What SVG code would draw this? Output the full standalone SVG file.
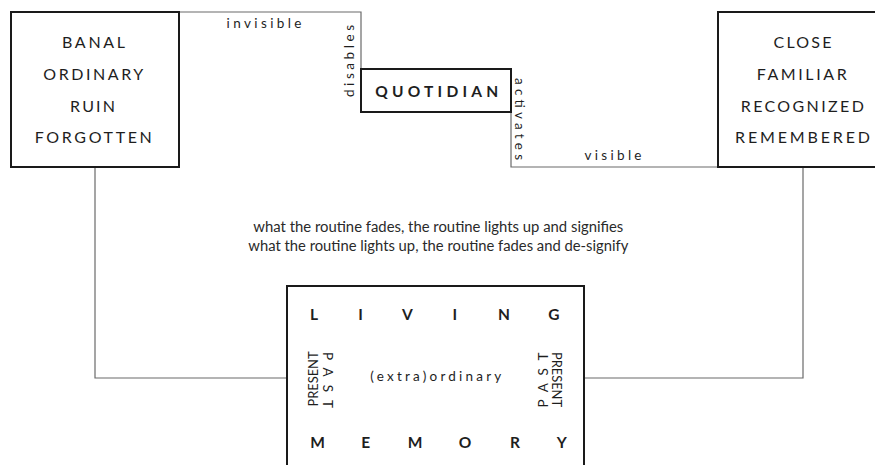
<svg xmlns="http://www.w3.org/2000/svg" width="875" height="465" viewBox="0 0 875 465">
<style>
.box{fill:#fff;stroke:#1a1a1a;stroke-width:2}
.con{fill:none;stroke:#6a6a6a;stroke-width:1.2}
text{font-family:Lato,"Open Sans","Liberation Sans",sans-serif;fill:#1e1e1e}
.cap{font-size:16px;text-anchor:middle}
.lbl{font-size:13.5px;text-anchor:middle}
.big{font-size:15.5px;font-weight:bold;text-anchor:middle}
.mid{font-size:14.5px;text-anchor:middle;fill:#2a2a2a}
</style>
<rect width="875" height="465" fill="#fff"/>
<g id="connectors">
<polyline class="con" points="179,12 361,12 361,69"/>
<polyline class="con" points="511,112 511,167 718,167"/>
<polyline class="con" points="95,167 95,378 287,378"/>
<polyline class="con" points="803,167 803,378 584,378"/>
<text class="lbl" x="264" y="28" textLength="75" lengthAdjust="spacing">invisible</text>
<text class="lbl" transform="translate(354,61) rotate(-90)" textLength="72" lengthAdjust="spacing">disables</text>
<text class="lbl" transform="translate(515,119) rotate(90)" textLength="82" lengthAdjust="spacing">activates</text>
<text class="lbl" x="613" y="160" textLength="57" lengthAdjust="spacing">visible</text>
</g>
<g id="banal">
<rect class="box" x="11" y="12" width="168" height="155"/>
<text class="cap" x="93.5" y="48.3" textLength="63" lengthAdjust="spacing">BANAL</text>
<text class="cap" x="93.3" y="80" textLength="100" lengthAdjust="spacing">ORDINARY</text>
<text class="cap" x="92.5" y="111.7" textLength="45" lengthAdjust="spacing">RUIN</text>
<text class="cap" x="93.3" y="143.3" textLength="117" lengthAdjust="spacing">FORGOTTEN</text>
</g>
<g id="close">
<rect class="box" x="718" y="12" width="172" height="155"/>
<text class="cap" x="802.5" y="48.3" textLength="58" lengthAdjust="spacing">CLOSE</text>
<text class="cap" x="801.7" y="80" textLength="90" lengthAdjust="spacing">FAMILIAR</text>
<text class="cap" x="802.3" y="111.7" textLength="123" lengthAdjust="spacing">RECOGNIZED</text>
<text class="cap" x="802.5" y="143.3" textLength="135" lengthAdjust="spacing">REMEMBERED</text>
</g>
<g id="quotidian">
<rect class="box" x="361" y="69" width="150" height="43"/>
<text class="big" x="436.7" y="96.7" font-size="16" textLength="123" lengthAdjust="spacing">QUOTIDIAN</text>
</g>
<g id="caption">
<text class="mid" x="438.3" y="231.5" textLength="370" lengthAdjust="spacingAndGlyphs">what the routine fades, the routine lights up and signifies</text>
<text class="mid" x="438.3" y="250.5" textLength="380" lengthAdjust="spacingAndGlyphs">what the routine lights up, the routine fades and de-signify</text>
</g>
<g id="living-memory">
<rect class="box" x="287" y="286" width="297" height="200"/>
<text class="big" x="314" y="320">L</text>
<text class="big" x="360.5" y="320">I</text>
<text class="big" x="407.5" y="320">V</text>
<text class="big" x="454.7" y="320">I</text>
<text class="big" x="504" y="320">N</text>
<text class="big" x="554" y="320">G</text>
<text class="big" x="317.5" y="448.3">M</text>
<text class="big" x="365.8" y="448.3">E</text>
<text class="big" x="415" y="448.3">M</text>
<text class="big" x="465" y="448.3">O</text>
<text class="big" x="515" y="448.3">R</text>
<text class="big" x="561.7" y="448.3">Y</text>
<text class="lbl" x="435.8" y="381" textLength="131" lengthAdjust="spacing">(extra)ordinary</text>
<text class="lbl" font-size="12.5" transform="translate(318,379) rotate(-90)" textLength="55" lengthAdjust="spacingAndGlyphs">PRESENT</text>
<text class="lbl" font-size="15" transform="translate(323,380) rotate(90)" textLength="56" lengthAdjust="spacing">PAST</text>
<text class="lbl" font-size="15" transform="translate(548,380) rotate(-90)" textLength="55" lengthAdjust="spacing">PAST</text>
<text class="lbl" font-size="12.5" transform="translate(552,379.5) rotate(90)" textLength="55" lengthAdjust="spacingAndGlyphs">PRESENT</text>
</g>
</svg>
